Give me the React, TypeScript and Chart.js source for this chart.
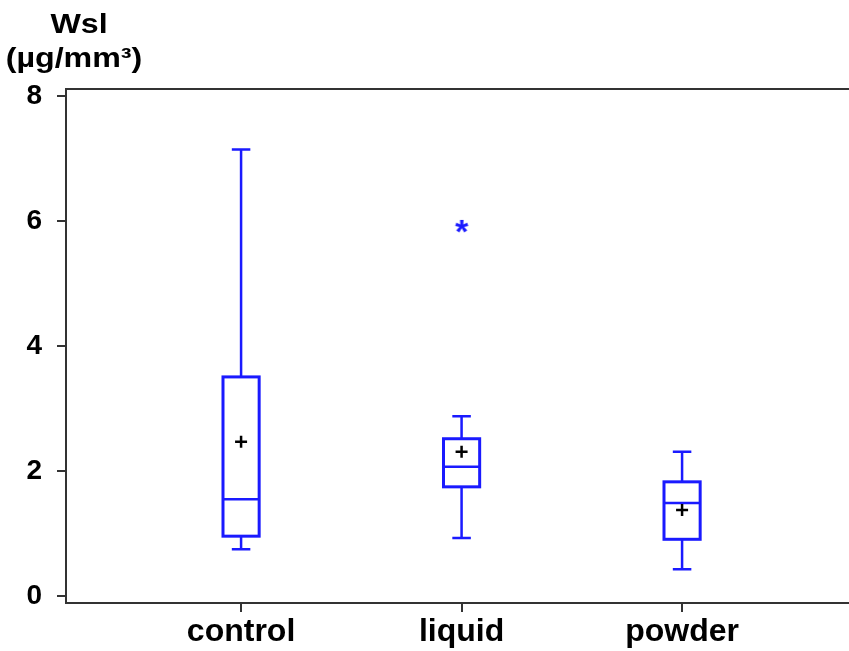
import React, { useEffect, useRef } from "react";
import { Chart, registerables } from "chart.js";

Chart.register(...registerables);

const categories = ["control", "liquid", "powder"];
const whiskerLow = [0.75, 0.93, 0.43];
const q1 = [0.96, 1.75, 0.91];
const median = [1.55, 2.07, 1.49];
const q3 = [3.51, 2.52, 1.83];
const whiskerHigh = [7.15, 2.88, 2.31];
const means = [2.47, 2.31, 1.38];
const outliers: number[][] = [[], [5.88], []];
const yTicks = [0, 2, 4, 6, 8];
const titleLines = ["Wsl", "(µg/mm³)"];

const BLUE = "#1a1aff";
const FRAME = "#333333";
const FONT = "'Liberation Sans', Arial, sans-serif";

function makeAsterisk(): HTMLCanvasElement {
  const c = document.createElement("canvas");
  c.width = 22;
  c.height = 22;
  const g = c.getContext("2d") as CanvasRenderingContext2D;
  g.fillStyle = BLUE;
  g.font = `bold 34px ${FONT}`;
  g.textAlign = "center";
  g.textBaseline = "middle";
  g.fillText("*", 11, 16);
  return c;
}

const boxPlugin = {
  id: "boxes",
  beforeDatasetsDraw(chart: any) {
    const { ctx, scales } = chart;
    const xs = scales.x;
    const ys = scales.y;
    const halfBox = 0.082;
    const halfCap = 0.042;
    ctx.save();
    ctx.strokeStyle = BLUE;
    ctx.lineWidth = 2.5;
    categories.forEach((_, i) => {
      const cx = xs.getPixelForValue(i + 1);
      const bl = xs.getPixelForValue(i + 1 - halfBox);
      const br = xs.getPixelForValue(i + 1 + halfBox);
      const cl = xs.getPixelForValue(i + 1 - halfCap);
      const cr = xs.getPixelForValue(i + 1 + halfCap);
      const yLo = ys.getPixelForValue(whiskerLow[i]);
      const yQ1 = ys.getPixelForValue(q1[i]);
      const yMed = ys.getPixelForValue(median[i]);
      const yQ3 = ys.getPixelForValue(q3[i]);
      const yHi = ys.getPixelForValue(whiskerHigh[i]);
      ctx.beginPath();
      ctx.moveTo(cx, yHi);
      ctx.lineTo(cx, yQ3);
      ctx.moveTo(cx, yQ1);
      ctx.lineTo(cx, yLo);
      ctx.moveTo(cl, yHi);
      ctx.lineTo(cr, yHi);
      ctx.moveTo(cl, yLo);
      ctx.lineTo(cr, yLo);
      ctx.stroke();
      ctx.lineWidth = 3;
      ctx.strokeRect(bl, yQ3, br - bl, yQ1 - yQ3);
      ctx.lineWidth = 2.5;
      ctx.beginPath();
      ctx.moveTo(bl, yMed);
      ctx.lineTo(br, yMed);
      ctx.stroke();
    });
    ctx.restore();
  },
  afterDraw(chart: any) {
    const { ctx, chartArea } = chart;
    ctx.save();
    // top frame line
    ctx.strokeStyle = FRAME;
    ctx.lineWidth = 2;
    ctx.beginPath();
    ctx.moveTo(chartArea.left, chartArea.top);
    ctx.lineTo(chart.width, chartArea.top);
    ctx.stroke();
    // title (slightly widened to match the reference's stretched lettering)
    ctx.fillStyle = "#000";
    ctx.textAlign = "center";
    ctx.textBaseline = "alphabetic";
    ctx.font = `bold 28px ${FONT}`;
    ctx.scale(1.15, 1);
    ctx.fillText(titleLines[0], 79 / 1.15, 33);
    ctx.fillText(titleLines[1], 74 / 1.15, 67);
    ctx.restore();
  },
};

export default function App() {
  const ref = useRef<HTMLCanvasElement>(null);
  useEffect(() => {
    document.body.style.margin = "0";
    const meanData = means.map((m, i) => ({ x: i + 1, y: m }));
    const outData: { x: number; y: number }[] = [];
    outliers.forEach((arr, i) => arr.forEach((v) => outData.push({ x: i + 1, y: v })));
    const chart = new Chart(ref.current as HTMLCanvasElement, {
      type: "scatter",
      data: {
        datasets: [
          {
            label: "mean",
            data: meanData,
            pointStyle: "cross",
            pointRadius: 6,
            borderColor: "#000",
            borderWidth: 2.5,
            backgroundColor: "#000",
          },
          {
            label: "outlier",
            data: outData,
            pointStyle: makeAsterisk() as any,
            pointRadius: 6,
            borderColor: BLUE,
            backgroundColor: BLUE,
          },
        ],
      },
      options: {
        animation: false,
        responsive: false,
        layout: { autoPadding: false, padding: { top: 89, right: 0, left: 0, bottom: 0 } },
        plugins: { legend: { display: false }, tooltip: { enabled: false } },
        scales: {
          x: {
            type: "linear",
            min: 0.206,
            max: 3.757,
            afterBuildTicks: (s: any) => {
              s.ticks = categories.map((_, i) => ({ value: i + 1 }));
            },
            afterFit: (s: any) => {
              s.height = 48;
            },
            ticks: {
              callback: (v: any) => categories[Number(v) - 1] ?? "",
              color: "#000",
              font: { family: FONT, size: 32, weight: "bold" },
              padding: 1,
              maxRotation: 0,
              autoSkip: false,
            },
            grid: { drawOnChartArea: false, drawTicks: true, tickLength: 9, color: FRAME, lineWidth: 2 },
            border: { display: true, color: FRAME, width: 2 },
          },
          y: {
            type: "linear",
            min: -0.11,
            max: 8.12,
            afterBuildTicks: (s: any) => {
              s.ticks = yTicks.map((v) => ({ value: v }));
            },
            afterFit: (s: any) => {
              s.width = 66;
            },
            ticks: {
              color: "#000",
              font: { family: FONT, size: 28, weight: "bold" },
              padding: 15,
            },
            grid: { drawOnChartArea: false, drawTicks: true, tickLength: 9, color: FRAME, lineWidth: 2 },
            border: { display: true, color: FRAME, width: 2 },
          },
        },
      },
      plugins: [boxPlugin],
    });
    return () => chart.destroy();
  }, []);
  return (
    <canvas
      ref={ref}
      width={849}
      height={651}
      style={{ position: "absolute", left: 0, top: 0, display: "block" }}
    />
  );
}
